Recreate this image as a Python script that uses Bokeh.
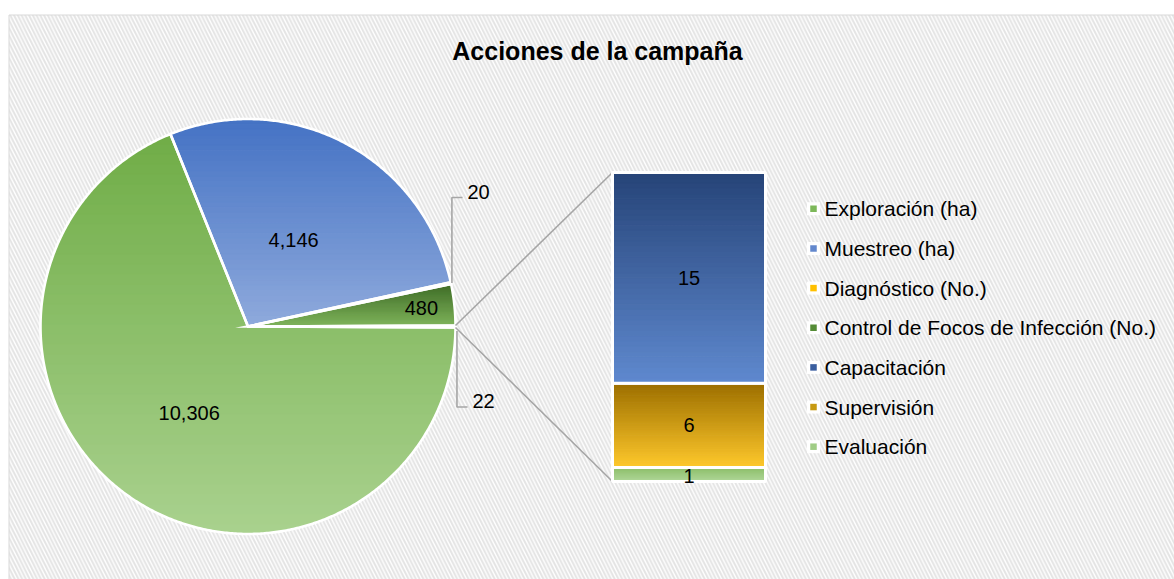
import numpy as np
from bokeh.plotting import figure
from bokeh.models import Range1d
from bokeh.core.properties import value
from bokeh.embed import file_html
from bokeh.resources import INLINE

# ---------------- data ----------------
title = "Acciones de la campaña"
pie_labels = ["Exploración (ha)", "Muestreo (ha)", "Diagnóstico (No.)",
              "Control de Focos de Infección (No.)"]
pie_values = [10306, 4146, 20, 480]
bar_labels = ["Capacitación", "Supervisión", "Evaluación"]
bar_values = [15, 6, 1]
legend_labels = pie_labels + bar_labels

# ---------------- styles ----------------
pie_top = ["#70AD47", "#4472C4", "#BF9000", "#3F6C27"]
pie_bot = ["#A9D18E", "#8FAADC", "#FFC000", "#80B55C"]
other_col = "#A9D18E"
bar_top = ["#264478", "#9C6F00", "#8DC06C"]
bar_bot = ["#5F89CF", "#FFC92C", "#B3D89C"]
legend_cols = ["#7DB85A", "#6388CD", "#FFC000", "#548B36", "#3A5E9F", "#C79A12", "#A0CD86"]
FONT = "Liberation Sans"

W, H = 1174, 579
def Y(py):
    return H - py

p = figure(width=W, height=H, x_range=Range1d(0, W), y_range=Range1d(0, H),
           output_backend="svg", toolbar_location=None,
           x_axis_location=None, y_axis_location=None, min_border=0)
p.xgrid.visible = False
p.ygrid.visible = False
p.outline_line_color = None
p.background_fill_color = "white"
p.border_fill_color = "white"

# chart area with hatch
p.quad(left=[8.5], right=[W + 10], top=[Y(14.5)], bottom=[-10],
       fill_color="white", line_color="#D9D9D9", line_width=1,
       hatch_pattern="left_diagonal_line", hatch_color="#E4E4E4",
       hatch_scale=7.5, hatch_weight=2.0)

# title
p.text(x=[597], y=[Y(50)], text=[title], text_font=value(FONT),
       text_font_size="25px", text_font_style="bold", text_align="center",
       text_baseline="middle", text_color="#000000")

# ---------------- helpers ----------------
def hex2rgb(h):
    h = h.lstrip("#")
    return np.array([int(h[i:i + 2], 16) for i in (0, 2, 4)], dtype=float)

def mix(c1, c2, t):
    a, b = hex2rgb(c1), hex2rgb(c2)
    c = a + (b - a) * t
    return "#%02x%02x%02x" % tuple(int(round(v)) for v in c)

def clip_poly(pts, lo, hi):
    def clip(pts, inside, yv):
        out = []
        n = len(pts)
        for i in range(n):
            cur, prev = pts[i], pts[i - 1]
            def inter(a, b):
                t = (yv - a[1]) / (b[1] - a[1])
                return (a[0] + t * (b[0] - a[0]), yv)
            if inside(cur):
                if not inside(prev):
                    out.append(inter(prev, cur))
                out.append(cur)
            elif inside(prev):
                out.append(inter(prev, cur))
        return out
    pts = clip(pts, lambda q: q[1] >= lo, lo)
    if len(pts) < 3:
        return None
    pts = clip(pts, lambda q: q[1] <= hi, hi)
    if len(pts) < 3:
        return None
    return pts

def gradient_patches(xs, ys, ctop, cbot, n=40):
    pts = list(zip(xs, ys))
    ymin, ymax = min(ys), max(ys)
    bx, by, bc = [], [], []
    edges = np.linspace(ymin, ymax, n + 1)
    for i in range(n):
        lo, hi = edges[i], edges[i + 1]
        c = clip_poly(pts, lo, hi)
        if c is None:
            continue
        t = 1 - ((lo + hi) / 2 - ymin) / (ymax - ymin)
        bx.append([q[0] for q in c])
        by.append([q[1] for q in c])
        bc.append(mix(ctop, cbot, t))
    if bx:
        p.patches(xs=bx, ys=by, fill_color=bc, line_color=bc, line_width=1)

# ---------------- pie ----------------
cx, cy, R = 247.5, Y(326), 207.5
other_value = sum(bar_values)
total = sum(pie_values) + other_value
deg = 360.0 / total

# counter-clockwise from the "other" slice centred on 3 o'clock
slices = []
a = -other_value * deg / 2
slices.append(("other", a, a + other_value * deg))
a += other_value * deg
for i in reversed(range(len(pie_values))):
    slices.append((i, a, a + pie_values[i] * deg))
    a += pie_values[i] * deg

def slice_poly(a0, a1):
    m = max(2, int(abs(a1 - a0) / 0.5))
    th = np.radians(np.linspace(a0, a1, m + 1))
    xs = [cx] + list(cx + R * np.cos(th))
    ys = [cy] + list(cy + R * np.sin(th))
    return xs, ys

outline_x, outline_y = [], []
angles = {}
for key, a0, a1 in slices:
    xs, ys = slice_poly(a0, a1)
    angles[key] = (a0, a1)
    if key == "other":
        p.patch(xs, ys, fill_color=other_col, line_color=other_col)
    elif pie_values[key] < 100:
        p.patch(xs, ys, fill_color=pie_bot[key], line_color=pie_bot[key])
    else:
        gradient_patches(xs, ys, pie_top[key], pie_bot[key])
    outline_x.append(xs)
    outline_y.append(ys)
p.patches(xs=outline_x, ys=outline_y, fill_alpha=0, line_color="white",
          line_width=2.6, line_join="miter")

# inside labels
lab_frac = {0: 0.505, 1: 0.47, 3: 0.84}
lx, ly, lt = [], [], []
for i, f in lab_frac.items():
    a0, a1 = angles[i]
    m = np.radians((a0 + a1) / 2)
    lx.append(cx + f * R * np.cos(m))
    ly.append(cy + f * R * np.sin(m))
    lt.append(f"{pie_values[i]:,}")
p.text(x=lx, y=ly, text=lt, text_font=value(FONT), text_font_size="20px",
       text_align="center", text_baseline="middle", text_color="#000000")

# outside labels with leader lines (Diagnóstico and "other")
a0, a1 = angles[2]
m = np.radians((a0 + a1) / 2)
sx, sy = cx + (R + 1) * np.cos(m), cy + (R + 1) * np.sin(m)
p.line([sx, sx, 462], [sy, Y(197), Y(197)], line_color="#A6A6A6", line_width=1.6)
p.text(x=[467], y=[Y(191)], text=[f"{pie_values[2]:,}"], text_font=value(FONT),
       text_font_size="20px", text_align="left", text_baseline="middle",
       text_color="#000000")

a0, a1 = angles["other"]
m = np.radians((a0 + a1) / 2) - np.radians(1.2)
sx, sy = cx + (R + 1.5) * np.cos(m), cy + (R + 1.5) * np.sin(m)
p.line([sx, sx, 467], [sy, Y(406.5), Y(406.5)], line_color="#A6A6A6", line_width=1.6)
p.text(x=[472], y=[Y(400)], text=[f"{other_value:,}"], text_font=value(FONT),
       text_font_size="20px", text_align="left", text_baseline="middle",
       text_color="#000000")

# ---------------- bar of pie ----------------
bx0, bx1 = 612, 765
b_top, b_bot = Y(172), Y(481)
unit = (b_top - b_bot) / other_value

# connector lines from the "other" slice edges to the bar corners
oa0, oa1 = np.radians(angles["other"][0]), np.radians(angles["other"][1])
p.line([cx + R * np.cos(oa1), bx0], [cy + R * np.sin(oa1), b_top],
       line_color="#A6A6A6", line_width=1.6)
p.line([cx + R * np.cos(oa0), bx0], [cy + R * np.sin(oa0), b_bot],
       line_color="#A6A6A6", line_width=1.6)

cum = 0.0
seg_centers = []
for j in reversed(range(len(bar_values))):
    lo = b_bot + cum * unit
    hi = b_bot + (cum + bar_values[j]) * unit
    n = 40
    edges = np.linspace(lo, hi, n + 1)
    cols = [mix(bar_top[j], bar_bot[j], 1 - (k + 0.5) / n) for k in range(n)]
    p.quad(left=bx0, right=bx1, bottom=edges[:-1], top=edges[1:],
           fill_color=cols, line_color=cols, line_width=1)
    p.quad(left=[bx0], right=[bx1], bottom=[lo], top=[hi], fill_alpha=0,
           line_color="white", line_width=3)
    seg_centers.append(((lo + hi) / 2, bar_values[j]))
    cum += bar_values[j]

p.text(x=[(bx0 + bx1) / 2] * len(seg_centers), y=[c[0] - (1.5 if c[1] < 2 else 0) for c in seg_centers],
       text=[f"{c[1]:,}" for c in seg_centers], text_font=value(FONT),
       text_font_size="20px", text_align="center", text_baseline="middle",
       text_color="#000000")

# ---------------- legend ----------------
leg_y0, leg_dy = 208.3, 39.65
ly = [Y(leg_y0 + k * leg_dy) for k in range(len(legend_labels))]
p.rect(x=[813] * len(ly), y=ly, width=13, height=13, fill_color="white",
       line_color=None)
p.rect(x=[813] * len(ly), y=ly, width=6.5, height=6.5, fill_color=legend_cols,
       line_color=None)
p.text(x=[824] * len(ly), y=ly, text=legend_labels, text_font=value(FONT),
       text_font_size="21px", text_align="left", text_baseline="middle",
       text_color="#000000")

open("out.html", "w").write(file_html(p, INLINE))
